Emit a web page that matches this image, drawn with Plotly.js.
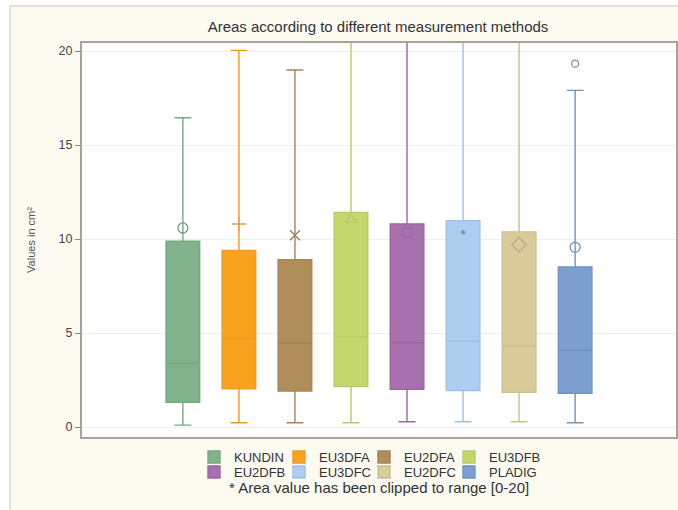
<!DOCTYPE html>
<html>
<head>
<meta charset="utf-8">
<script src="https://cdn.plot.ly/plotly-3.0.1.min.js"></script>
<style>html,body{margin:0;padding:0;background:#fff;}#chart{width:678px;height:510px;}</style>
</head>
<body>
<div id="chart"></div>
<script>
// ---- data ----
const methods   = ["KUNDIN","EU3DFA","EU2DFA","EU3DFB","EU2DFB","EU3DFC","EU2DFC","PLADIG"];
const lowerFence = [0.10, 0.23, 0.23, 0.23, 0.28, 0.28, 0.28, 0.23];
const q1Values   = [1.32, 2.03, 1.92, 2.15, 2.01, 1.94, 1.85, 1.80];
const medians    = [3.39, 4.69, 4.46, 4.81, 4.49, 4.58, 4.32, 4.10];
const q3Values   = [9.88, 9.40, 8.90, 11.42, 10.80, 10.98, 10.38, 8.51];
const upperFence = [16.45, 20.04, 18.99, 22.0, 22.0, 22.0, 22.0, 17.91]; // >20 are clipped in the picture
const means      = [10.59, 10.80, 10.20, 11.03, 10.36, 10.36, 9.70, 9.56];
const outlierMethod = ["PLADIG"];
const outlierValues = [19.33];
const yTicks = [0, 5, 10, 15, 20];
const noteText = "* Area value has been clipped to range [0-20]";

// ---- styles ----
const fills  = ["#80b38b","#f9a21d","#b08e59","#c3d76c","#a770ae","#abcef1","#d9cc9a","#7c9fd0"];
const lines  = ["#78a883","#ec9a2a","#a3845a","#b8ca6a","#9a679f","#a0c0e0","#cbbf90","#7093c2"];
const meanSym = ["circle-open","cross-thin-open","x-thin-open","triangle-up-open","square-open","circle","diamond-open","circle-open"];
const meanSize = [10, 10, 10, 10, 9, 3, 11, 10];
const meanCol = ["#6f9f7a","#d99a55","#8f7d63","#b5c66b","#9a6aa0","#7f93ad","#b9aa80","#6e8cbf"];

const legendIds = methods.map((m, i) => i === 0 ? "legend" : "legend" + (i + 1));

const traces = [];
methods.forEach((m, i) => {
  traces.push({
    type: "box",
    name: m,
    x: [m],
    q1: [q1Values[i]], median: [medians[i]], q3: [q3Values[i]],
    lowerfence: [lowerFence[i]], upperfence: [upperFence[i]],
    fillcolor: fills[i],
    line: {color: lines[i], width: 1.4},
    width: 0.6,
    whiskerwidth: 0.5,
    boxpoints: false,
    hoverinfo: "skip",
    legend: legendIds[i],
    showlegend: true
  });
});
methods.forEach((m, i) => {
  traces.push({
    type: "scatter", mode: "markers",
    x: [m], y: [means[i]],
    marker: {symbol: meanSym[i], size: meanSize[i], color: meanCol[i], line: {color: meanCol[i], width: 1.3}},
    showlegend: false, hoverinfo: "skip"
  });
});
traces.push({
  type: "scatter", mode: "markers",
  x: outlierMethod, y: outlierValues,
  marker: {symbol: "circle-open", size: 7, color: "#6e8cbf", line: {color: "#6e8cbf", width: 1.3}},
  showlegend: false, hoverinfo: "skip"
});

const layout = {
  width: 678, height: 510,
  margin: {l: 82, r: 2, t: 43, b: 73},
  paper_bgcolor: "#ffffff",
  plot_bgcolor: "rgba(0,0,0,0)",
  font: {family: "Liberation Sans, Arial, sans-serif", color: "#444"},
  title: {
    text: "Areas according to different measurement methods",
    font: {size: 15, color: "#333"},
    x: 378/678, xanchor: "center",
    yref: "container", y: 1 - 27/510, yanchor: "middle"
  },
  boxmode: "overlay",
  xaxis: {
    type: "category",
    categoryorder: "array", categoryarray: methods,
    range: [-1.8, 8.8],
    showticklabels: false, ticks: "",
    showgrid: false, zeroline: false,
    showline: true, mirror: true, linecolor: "#a8a398", linewidth: 2
  },
  yaxis: {
    range: [-0.53, 20.43],
    tickvals: yTicks,
    ticktext: yTicks.map(String),
    ticks: "outside", ticklen: 5, tickcolor: "#888",
    tickfont: {size: 12.5, color: "#444"},
    showgrid: true, gridcolor: "#eeeeea", gridwidth: 1,
    zeroline: false,
    showline: true, mirror: true, linecolor: "#a8a398", linewidth: 2,
    title: {text: "Values in cm²", font: {size: 11, color: "#555"}, standoff: 21}
  },
  annotations: [{
    text: noteText,
    xref: "paper", yref: "paper",
    x: (379-82)/594, y: (437-487)/394,
    xanchor: "center", yanchor: "middle",
    showarrow: false,
    font: {size: 15, color: "#333"}
  }],
  shapes: [
    {type: "rect", xref: "paper", yref: "paper", layer: "below",
     x0: (10-82)/594, x1: (690-82)/594, y0: (437-6)/394, y1: (437-520)/394,
     fillcolor: "#fdfaf2", line: {color: "#cbc7bf", width: 1}},
    {type: "rect", xref: "paper", yref: "paper", layer: "below",
     x0: 0, x1: 1, y0: 0, y1: 1,
     fillcolor: "#ffffff", line: {width: 0}}
  ]
};

// one single-entry legend per method, arranged in a 4 x 2 grid
const colX = [194, 279, 364, 449];
const rowY = [457, 472];
legendIds.forEach((id, i) => {
  layout[id] = {
    orientation: "h",
    xref: "container", yref: "container",
    xanchor: "left", yanchor: "middle",
    x: colX[i % 4] / 678,
    y: 1 - rowY[Math.floor(i / 4)] / 510,
    font: {family: "Liberation Sans, Arial, sans-serif", size: 13, color: "#333"},
    bgcolor: "rgba(0,0,0,0)",
    itemclick: false, itemdoubleclick: false
  };
});

Plotly.newPlot("chart", traces, layout, {displayModeBar: false, staticPlot: true});
</script>
</body>
</html>
